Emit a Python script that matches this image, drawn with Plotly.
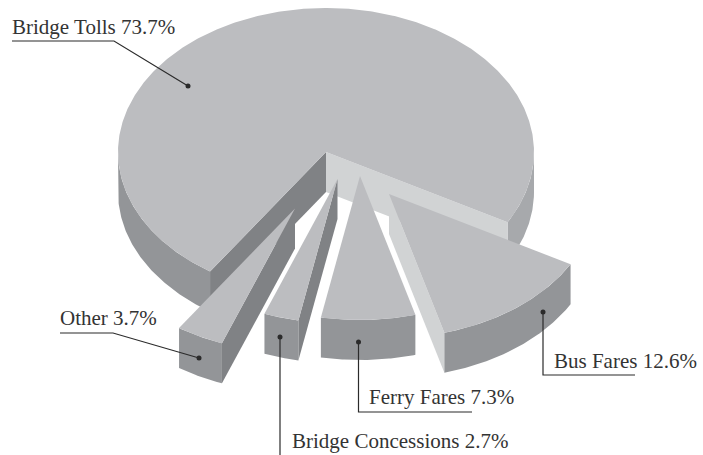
import numpy as np
import plotly.graph_objects as go

# Revenue shares, in drawing order clockwise from the right-hand edge of the gap
names = ["Bus Fares", "Ferry Fares", "Bridge Concessions", "Other", "Bridge Tolls"]
shares = [12.6, 7.3, 2.7, 3.7, 73.7]

# Exploded offset of each slice on the page
offset_x = [63, 34, 11.5, -31, 0]
offset_y = [42, 24, 27, 56.5, 0]

# Pie projection
CX, CY = 326, 152
RX, RY = 208, 144
DEPTH = 40
START_DEG = 29.2

TOP = "#BCBDC0"
FRONT = "#939598"
SIDE_RIGHT = "#A7A9AC"
WALL_LIGHT = "#D1D3D4"
WALL_DARK = "#808285"
INK = "#2B2B2B"

# Callouts: label position and leader path
label_x = [553, 368, 291, 59, 11]
label_y = [361, 397, 441, 318, 27]
leader_x = [[543, 543, 635], [358.5, 358.5, 472], [280, 280], [199, 113, 60], [188, 114, 12]]
leader_y = [[312, 375, 375], [342, 412, 412], [337, 455], [358, 333, 333], [86, 41, 41]]

fig = go.Figure()


def arc(a0, a1, ox, oy, dz=0.0):
    t = np.radians(np.linspace(a0, a1, max(2, int(abs(a1 - a0) * 2) + 2)))
    return CX + ox + RX * np.cos(t), CY + oy + dz + RY * np.sin(t)


def poly(xs, ys, color, name):
    fig.add_trace(go.Scatter(
        x=list(xs), y=list(ys), mode="lines", fill="toself", fillcolor=color,
        line=dict(width=0, color=color), name=name, hoverinfo="name", showlegend=False,
    ))


def wall(angle, ox, oy, color, name):
    ex, ey = arc(angle, angle, ox, oy)
    x0, y0 = CX + ox, CY + oy
    poly([x0, ex[0], ex[0], x0], [y0, ey[0], ey[0] + DEPTH, y0 + DEPTH], color, name)


def rim(a0, a1, ox, oy, color, name):
    x1, y1 = arc(a0, a1, ox, oy)
    x2, y2 = arc(a1, a0, ox, oy, DEPTH)
    poly(np.r_[x1, x2], np.r_[y1, y2], color, name)


def top(a0, a1, ox, oy, name):
    x1, y1 = arc(a0, a1, ox, oy)
    poly(np.r_[CX + ox, x1], np.r_[CY + oy, y1], TOP, name)


edges = START_DEG + np.r_[0, np.cumsum(shares)] * 3.6
slices = [(names[i], edges[i], edges[i + 1], offset_x[i], offset_y[i]) for i in range(len(names))]

# The large slice sits behind the exploded ones
name, a0, a1, ox, oy = slices[-1]
rim(a0, 180, ox, oy, FRONT, name)
rim(360, a1, ox, oy, SIDE_RIGHT, name)
wall(a0, ox, oy, WALL_DARK, name)
wall(a1, ox, oy, WALL_LIGHT, name)
top(a0, a1, ox, oy, name)

# Exploded slices, back to front; a radial wall shows only when it faces the viewer
for name, a0, a1, ox, oy in reversed(slices[:-1]):
    if np.cos(np.radians(a1)) > 0:
        wall(a1, ox, oy, WALL_LIGHT, name)
    if np.cos(np.radians(a0)) < 0:
        wall(a0, ox, oy, WALL_DARK, name)
    rim(a0, a1, ox, oy, FRONT, name)
    top(a0, a1, ox, oy, name)

# Leader lines with a dot on the slice end
for lx, ly in zip(leader_x, leader_y):
    fig.add_trace(go.Scatter(x=lx, y=ly, mode="lines", line=dict(color=INK, width=1.2),
                             hoverinfo="skip", showlegend=False))
    fig.add_trace(go.Scatter(x=lx[:1], y=ly[:1], mode="markers",
                             marker=dict(color=INK, size=5), hoverinfo="skip", showlegend=False))

annotations = [
    dict(x=x, y=y, text=f"{n} {v}%", xref="x", yref="y", xanchor="left", yanchor="middle",
         showarrow=False, borderpad=0, font=dict(family="Liberation Serif", size=21, color="#333333"))
    for n, v, x, y in zip(names, shares, label_x, label_y)
]

fig.update_layout(
    width=703, height=455, margin=dict(l=0, r=0, t=0, b=0),
    paper_bgcolor="white", plot_bgcolor="white", annotations=annotations,
    xaxis=dict(range=[0, 703], visible=False, fixedrange=True),
    yaxis=dict(range=[455, 0], visible=False, fixedrange=True),
)

fig.write_html("out.html", config={"displayModeBar": False})
